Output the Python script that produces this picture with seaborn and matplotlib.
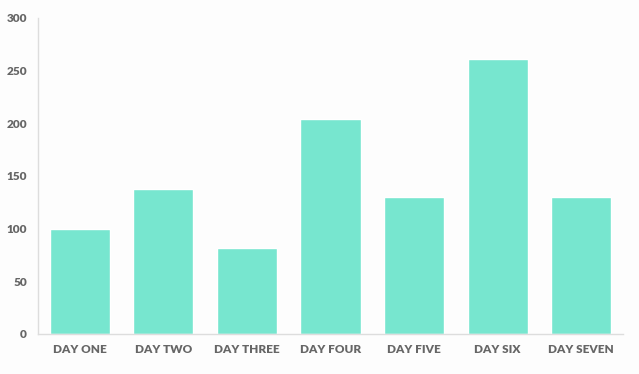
import matplotlib
matplotlib.use("Agg")
import matplotlib.pyplot as plt
import seaborn as sns
import pandas as pd

categories = ["DAY ONE", "DAY TWO", "DAY THREE", "DAY FOUR", "DAY FIVE", "DAY SIX", "DAY SEVEN"]
values = [100, 138, 82, 204, 130, 261, 130]
y_ticks = [0, 50, 100, 150, 200, 250, 300]

sns.set_theme(style="white")
plt.rcParams['font.family'] = ['Lato', 'DejaVu Sans']

df = pd.DataFrame({"day": categories, "value": values})

fig = plt.figure(figsize=(6.39, 3.74), dpi=100)
fig.patch.set_facecolor("#fdfdfd")
ax = fig.add_axes([0.0595, 0.107, 0.9155, 0.845])
ax.set_facecolor("#fdfdfd")

sns.barplot(data=df, x="day", y="value", color="#77e6cf", saturation=1, width=0.72, ax=ax)

ax.set_xlim(-0.5, len(categories) - 0.5)
ax.set_ylim(0, 300)
ax.set_yticks(y_ticks)
ax.set_yticklabels([str(t) for t in y_ticks])
ax.set_xlabel("")
ax.set_ylabel("")
for s in ["top", "right"]:
    ax.spines[s].set_visible(False)
for s in ["left", "bottom"]:
    ax.spines[s].set_color("#dddddd")
    ax.spines[s].set_linewidth(1)
ax.tick_params(axis="both", length=0, labelsize=8.5, labelcolor="#666666")
ax.tick_params(axis="x", pad=7)
ax.tick_params(axis="y", pad=8)
for lbl in ax.get_xticklabels() + ax.get_yticklabels():
    lbl.set_fontweight("heavy")

fig.savefig("out.png", dpi=100, facecolor=fig.get_facecolor())
